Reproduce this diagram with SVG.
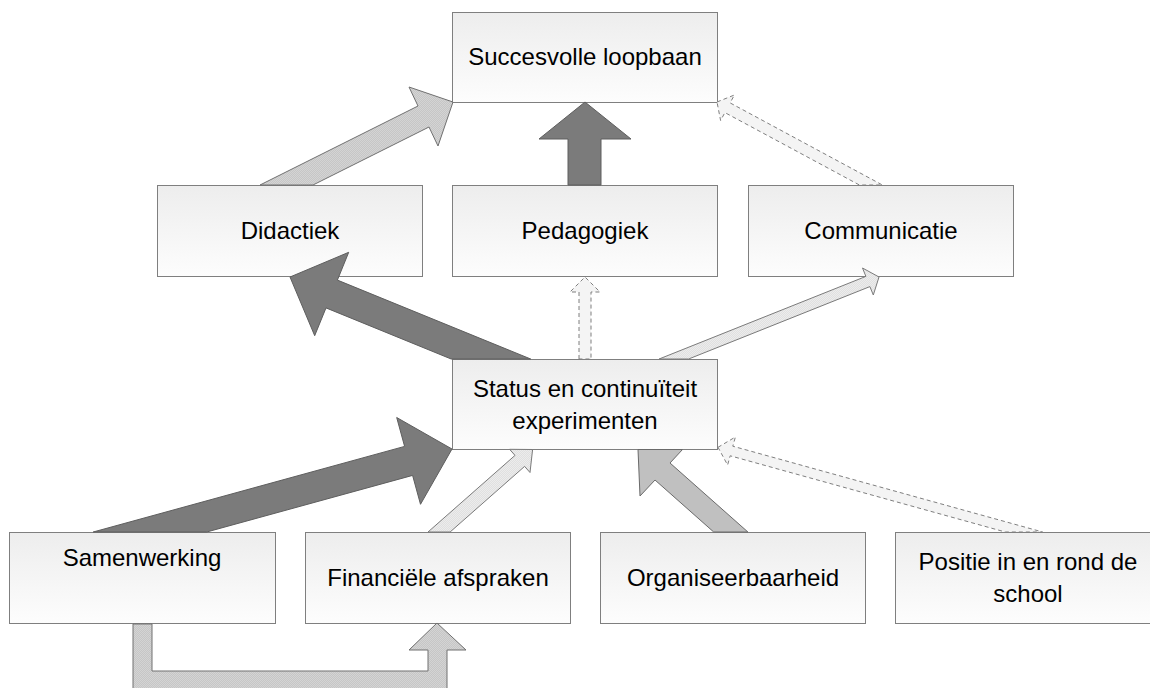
<svg xmlns="http://www.w3.org/2000/svg" width="1150" height="688" viewBox="0 0 1150 688">
<defs>
<linearGradient id="boxg" x1="0" y1="0" x2="0" y2="1">
<stop offset="0" stop-color="#ededed"/>
<stop offset="1" stop-color="#fdfdfd"/>
</linearGradient>
<pattern id="hatchMid" width="2" height="2" patternUnits="userSpaceOnUse">
<rect width="2" height="2" fill="#c6c6c6"/>
<rect width="1" height="1" fill="#d4d4d4"/>
<rect x="1" y="1" width="1" height="1" fill="#d4d4d4"/>
</pattern>
<pattern id="hatchLight" width="2" height="2" patternUnits="userSpaceOnUse">
<rect width="2" height="2" fill="#e0e0e0"/>
<rect width="1" height="1" fill="#ececec"/>
<rect x="1" y="1" width="1" height="1" fill="#ececec"/>
</pattern>
</defs>
<style>
.box{fill:url(#boxg);stroke:#7f7f7f;stroke-width:1}
.lbl{font-family:"Liberation Sans",Arial,sans-serif;font-size:24px;fill:#000;text-anchor:middle}
.dark{fill:#7b7b7b;stroke:#5e5e5e;stroke-width:1;stroke-linejoin:miter}
.med{fill:#c0c0c0;stroke:#6a6a6a;stroke-width:1}
.hmid{fill:url(#hatchMid);stroke:#707070;stroke-width:1}
.hlight{fill:url(#hatchLight);stroke:#7a7a7a;stroke-width:1}
.dash{fill:#f4f4f4;stroke:#7f7f7f;stroke-width:1;stroke-dasharray:4 3}
</style>
<rect width="1150" height="688" fill="#ffffff"/>

<g id="n-succesvolle">
<rect class="box" x="452.5" y="12.5" width="265" height="90"/>
<text class="lbl" x="585" y="65">Succesvolle loopbaan</text>
</g>
<g id="n-didactiek">
<rect class="box" x="157.5" y="185.5" width="265" height="91"/>
<text class="lbl" x="290" y="239">Didactiek</text>
</g>
<g id="n-pedagogiek">
<rect class="box" x="452.5" y="185.5" width="265" height="91"/>
<text class="lbl" x="585" y="239">Pedagogiek</text>
</g>
<g id="n-communicatie">
<rect class="box" x="748.5" y="185.5" width="265" height="91"/>
<text class="lbl" x="881" y="239">Communicatie</text>
</g>
<g id="n-status">
<rect class="box" x="452.5" y="359.5" width="265" height="90"/>
<text class="lbl" x="585" y="397">Status en continuïteit</text>
<text class="lbl" x="585" y="429">experimenten</text>
</g>
<g id="n-samenwerking">
<rect class="box" x="9.5" y="532.5" width="266" height="91"/>
<text class="lbl" x="142" y="566">Samenwerking</text>
</g>
<g id="n-financiele">
<rect class="box" x="305.5" y="532.5" width="265" height="91"/>
<text class="lbl" x="438" y="586">Financiële afspraken</text>
</g>
<g id="n-organiseerbaarheid">
<rect class="box" x="600.5" y="532.5" width="265" height="91"/>
<text class="lbl" x="733" y="586">Organiseerbaarheid</text>
</g>
<g id="n-positie">
<rect class="box" x="895.5" y="532.5" width="265" height="91"/>
<text class="lbl" x="1028" y="570">Positie in en rond de</text>
<text class="lbl" x="1028" y="602">school</text>
</g>

<g id="connectors">
<!-- Didactiek -> Succesvolle loopbaan -->
<polygon class="hmid" points="260,185 418,106 409,87 453,102 438,146 429,127 313,185"/>
<!-- Pedagogiek -> Succesvolle loopbaan -->
<polygon class="dark" points="568,185 568,139 539,139 585,102 631,139 601,139 601,185"/>
<!-- Communicatie -> Succesvolle loopbaan -->
<polygon class="dash" points="717,102 734.4,95 730.1,102.9 882.4,185 859.4,185 724.9,112.6 720.6,120.5"/>
<!-- Status -> Didactiek -->
<polygon class="dark" points="290,277 348.7,252.3 337.4,280.1 530.7,359 451.2,359 326,307.9 314.7,335.7"/>
<!-- Status -> Pedagogiek -->
<polygon class="dash" points="579,359 579,292 570,292 585,277 600,292 591,292 591,359"/>
<!-- Status -> Communicatie -->
<polygon class="hlight" points="879,277 873.3,295 869.9,286.6 688.6,359 659.1,359 865.9,276.4 862.5,268"/>
<!-- Samenwerking -> Status -->
<polygon class="dark" points="452,449 420.5,504.3 412.6,475.4 206.7,532 93.2,532 404.6,446.4 396.7,417.5"/>
<!-- Financiele -> Status -->
<polygon class="hlight" points="532.6,449.5 530,472.5 524.6,466.4 450.1,532 428,532 515,455.4 509.6,449.3"/>
<!-- Organiseerbaarheid -> Status -->
<polygon class="med" points="638,449.5 640,496 655,480 713.7,532 747.9,532 670,463 682.5,449.5"/>
<!-- Positie -> Status -->
<polygon class="dash" points="718,447.3 735.4,437 732.8,446.2 1042.6,532 1005.3,532 730.2,455.8 727.6,465"/>
<!-- Samenwerking -> Financiele (elbow) -->
<polygon class="hmid" points="133,624 133,700 447,700 447,650 466,650 437,623 409,650 428,650 428,671 152,671 152,624"/>
</g>
</svg>
